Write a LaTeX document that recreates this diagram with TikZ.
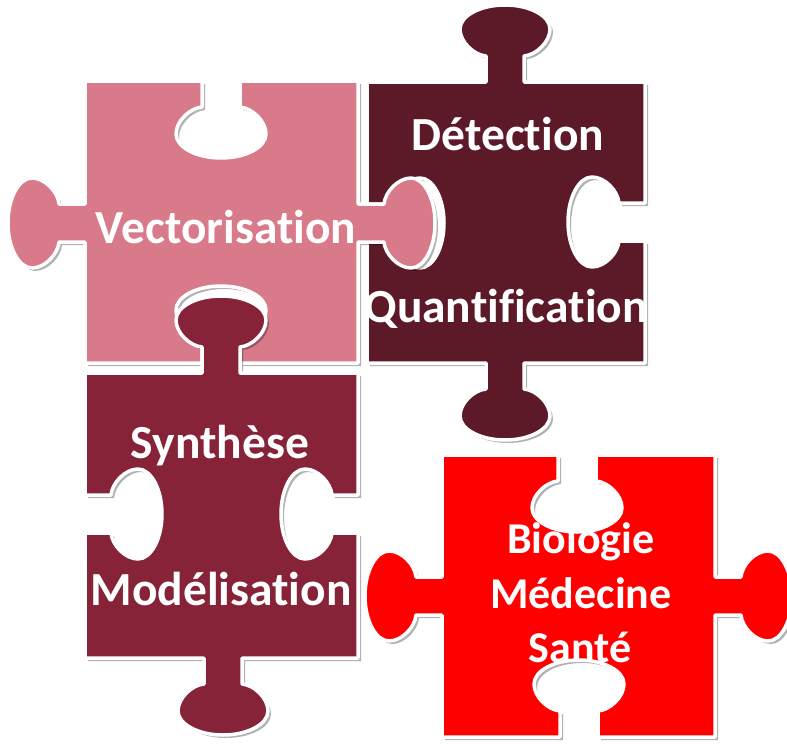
\documentclass[tikz,border=0pt]{standalone}
\usepackage{fontspec}
\setmainfont{Carlito}[Ligatures=NoCommon]
\usetikzlibrary{shadows}
\definecolor{cpink}{RGB}{216,122,138}
\definecolor{cdark}{RGB}{92,26,40}
\definecolor{cmaroon}{RGB}{134,35,56}
\definecolor{cred}{RGB}{255,0,0}
% puzzle edge feature: #1,#2 centre on edge, #3,#4 direction of travel, #5 = 1 tab / -1 hole
\newcommand\pz[5]{%
 -- ({#1+(-19)*(#3)+(#5)*(0)*(#4)},{#2+(-19)*(#4)-(#5)*(0)*(#3)})
 -- ({#1+(-19)*(#3)+(#5)*(26)*(#4)},{#2+(-19)*(#4)-(#5)*(26)*(#3)})
 .. controls ({#1+(-31)*(#3)+(#5)*(27)*(#4)},{#2+(-31)*(#4)-(#5)*(27)*(#3)})
 and ({#1+(-45)*(#3)+(#5)*(40)*(#4)},{#2+(-45)*(#4)-(#5)*(40)*(#3)})
 .. ({#1+(-45)*(#3)+(#5)*(53)*(#4)},{#2+(-45)*(#4)-(#5)*(53)*(#3)})
 .. controls ({#1+(-45)*(#3)+(#5)*(66)*(#4)},{#2+(-45)*(#4)-(#5)*(66)*(#3)})
 and ({#1+(-25)*(#3)+(#5)*(77)*(#4)},{#2+(-25)*(#4)-(#5)*(77)*(#3)})
 .. ({#1+(0)*(#3)+(#5)*(77)*(#4)},{#2+(0)*(#4)-(#5)*(77)*(#3)})
 .. controls ({#1+(25)*(#3)+(#5)*(77)*(#4)},{#2+(25)*(#4)-(#5)*(77)*(#3)})
 and ({#1+(45)*(#3)+(#5)*(66)*(#4)},{#2+(45)*(#4)-(#5)*(66)*(#3)})
 .. ({#1+(45)*(#3)+(#5)*(53)*(#4)},{#2+(45)*(#4)-(#5)*(53)*(#3)})
 .. controls ({#1+(45)*(#3)+(#5)*(40)*(#4)},{#2+(45)*(#4)-(#5)*(40)*(#3)})
 and ({#1+(31)*(#3)+(#5)*(27)*(#4)},{#2+(31)*(#4)-(#5)*(27)*(#3)})
 .. ({#1+(19)*(#3)+(#5)*(26)*(#4)},{#2+(19)*(#4)-(#5)*(26)*(#3)})
 -- ({#1+(19)*(#3)+(#5)*(0)*(#4)},{#2+(19)*(#4)-(#5)*(0)*(#3)})
}
\tikzset{
 piece/.style={draw=white, line width=3.5pt, line join=round,
   drop shadow={shadow xshift=3pt, shadow yshift=-3pt, fill=black, opacity=0.3}},
 lab/.style={text=white, font=\bfseries\fontsize{47.5}{50}\selectfont, anchor=base, inner sep=0pt},
 redlab/.style={text=white, font=\bfseries\fontsize{44}{46}\selectfont, anchor=base, inner sep=0pt}
}
\begin{document}
\begin{tikzpicture}[x=1pt,y=-1pt]
\fill[white] (0,0) rectangle (787,744);
\useasboundingbox (0,0) rectangle (787,744);
% dark piece
\path[piece, fill=cdark] (367,82) \pz{505}{82}{1}{0}{1} -- (645,82)
  \pz{645}{222}{0}{1}{-1} -- (645,363)
  \pz{505}{363}{-1}{0}{1} -- (367,363)
  \pz{367}{223}{0}{-1}{-1} -- cycle;
% pink piece
\path[piece, fill=cpink] (85,81) \pz{221}{81}{1}{0}{-1} -- (358,81)
  \pz{358}{223}{0}{1}{1} -- (358,363)
  \pz{221}{363}{-1}{0}{-1} -- (85,363)
  \pz{85}{223}{0}{-1}{1} -- cycle;
% maroon piece
\path[piece, fill=cmaroon] (85,373) \pz{221}{373}{1}{0}{1} -- (358,373)
  \pz{358}{514}{0}{1}{-1} -- (358,658)
  \pz{223}{658}{-1}{0}{1} -- (85,658)
  \pz{85}{514}{0}{-1}{-1} -- cycle;
% red piece
\path[piece, fill=cred] (442,455) \pz{577}{455}{1}{0}{-1} -- (715,455)
  \pz{715}{596}{0}{1}{1} -- (715,737)
  \pz{579}{737}{-1}{0}{-1} -- (442,737)
  \pz{442}{596}{0}{-1}{1} -- cycle;
% labels
\node[lab] (vec) at (226,243) {Vectorisation};
\node[lab] (det) at (508,150) {Détection};
\node[lab] (qua) at (506,322) {Quantification};
\node[lab] (syn) at (220,458) {Synthèse};
\node[lab] (mod) at (221,605) {Modélisation};
\node[redlab] (bio) at (581,553) {Biologie};
\node[redlab] (med) at (581,608) {Médecine};
\node[redlab] (san) at (580,662) {Santé};
\end{tikzpicture}
\end{document}
